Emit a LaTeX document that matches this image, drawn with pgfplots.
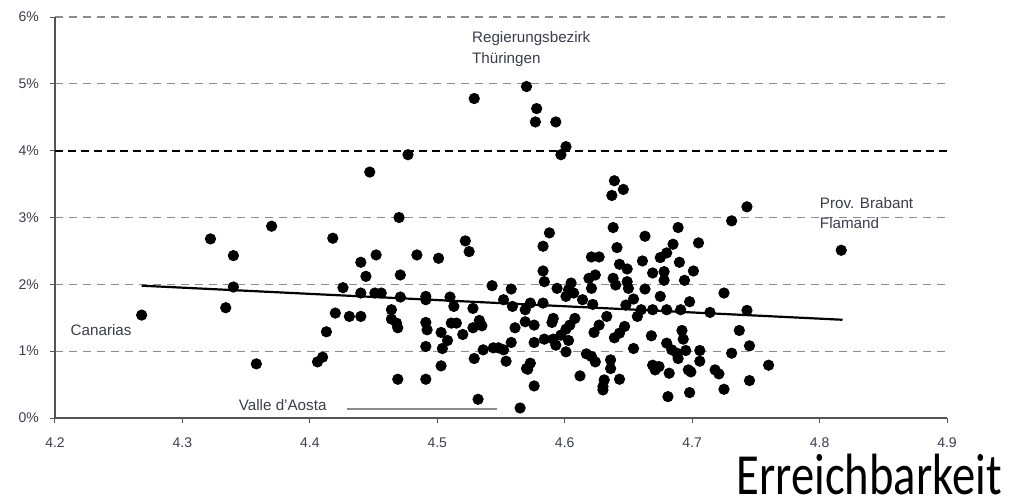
\documentclass[border=0pt]{standalone}
\usepackage{pgfplots}
\pgfplotsset{compat=1.18}
\usepackage{fontspec}
\setmainfont{Liberation Sans}
\newfontfamily\calibri{Carlito}
\definecolor{txt}{HTML}{3C3C4C}
\definecolor{gridg}{HTML}{8C8C8C}
\definecolor{axg}{HTML}{555555}
\begin{document}
\begin{tikzpicture}
\useasboundingbox (0,0) rectangle (510pt,249.5pt);
\begin{axis}[
  at={(27.5pt,40.5pt)}, anchor=south west,
  scale only axis, width=446pt, height=200.5pt,
  xmin=4.2, xmax=4.9, ymin=0, ymax=6,
  axis x line=bottom, axis y line=left,
  axis line style={-, axg, line width=0.8pt},
  xtick={4.2,4.3,...,4.9},
  xticklabels={4.2,4.3,4.4,4.5,4.6,4.7,4.8,4.9},
  ytick={0,1,2,3,5,6},
  yticklabel={\pgfmathprintnumber{\tick}\%},
  extra y ticks={4},
  extra y tick style={grid style={black, dash pattern=on 4pt off 2.5pt, line width=1pt}},
  ymajorgrids,
  grid style={gridg, dash pattern=on 4pt off 3pt, line width=0.6pt},
  tick align=outside, major tick length=2.5pt,
  tick style={axg, line width=0.5pt},
  ticklabel style={font=\fontsize{7pt}{8pt}\selectfont, text=txt},
  /pgf/number format/assume math mode=true,
  xticklabel style={yshift=-4pt},
  yticklabel style={xshift=-2pt},
  clip=false,
]
\addplot[only marks, mark=*, mark size=2.6pt, black] coordinates {
(4.268,1.54)(4.322,2.68)(4.334,1.65)(4.340,2.43)(4.340,1.96)(4.358,0.81)
(4.370,2.87)(4.406,0.84)(4.410,0.91)(4.413,1.29)(4.418,2.69)(4.420,1.57)
(4.477,3.94)(4.447,3.68)(4.470,3.00)(4.522,2.65)(4.525,2.49)(4.452,2.44)
(4.440,2.33)(4.484,2.44)(4.501,2.39)(4.444,2.12)(4.471,2.14)(4.426,1.95)
(4.543,1.98)(4.558,1.93)
(4.440,1.87)(4.451,1.87)(4.456,1.87)(4.471,1.81)(4.491,1.82)(4.491,1.77)
(4.510,1.81)(4.513,1.67)(4.528,1.64)(4.552,1.77)(4.559,1.67)(4.569,1.62)
(4.431,1.52)(4.440,1.52)(4.464,1.62)(4.464,1.48)(4.468,1.42)(4.469,1.35)
(4.491,1.43)(4.492,1.32)(4.503,1.28)(4.511,1.42)(4.515,1.42)(4.520,1.25)
(4.508,1.16)(4.504,1.04)(4.491,1.07)(4.528,1.35)(4.533,1.46)(4.535,1.38)
(4.561,1.35)(4.558,1.13)(4.536,1.02)(4.529,0.89)(4.544,1.05)(4.548,1.05)
(4.552,1.02)(4.554,0.85)(4.503,0.78)(4.469,0.58)(4.491,0.58)(4.532,0.28)
(4.565,0.15)(4.570,0.74)
(4.529,4.78)(4.570,4.96)(4.578,4.63)(4.577,4.43)(4.593,4.43)(4.601,4.06)
(4.597,3.94)(4.639,3.55)(4.646,3.42)(4.637,3.33)
(4.588,2.77)(4.583,2.57)(4.638,2.85)(4.641,2.55)(4.663,2.72)(4.689,2.85)
(4.685,2.60)(4.705,2.62)(4.680,2.47)(4.675,2.40)(4.621,2.41)(4.627,2.41)
(4.661,2.35)(4.643,2.30)(4.649,2.23)(4.690,2.33)(4.583,2.20)(4.624,2.14)
(4.669,2.17)(4.678,2.19)(4.701,2.20)(4.619,2.09)(4.678,2.06)(4.694,2.06)
(4.638,2.09)(4.584,2.04)(4.640,1.99)(4.649,2.04)(4.605,2.02)(4.594,1.94)
(4.603,1.92)(4.607,1.87)(4.601,1.82)(4.621,1.94)(4.650,1.94)(4.663,1.93)
(4.675,1.82)(4.698,1.74)(4.654,1.78)(4.614,1.77)(4.622,1.70)(4.648,1.69)
(4.583,1.72)(4.573,1.72)(4.660,1.62)(4.669,1.62)(4.680,1.62)(4.691,1.62)
(4.714,1.58)(4.591,1.49)(4.608,1.49)(4.633,1.52)(4.657,1.52)
(4.569,1.44)(4.576,1.39)(4.590,1.43)(4.604,1.39)(4.601,1.33)(4.597,1.24)
(4.627,1.39)(4.623,1.28)(4.647,1.37)(4.643,1.27)(4.639,1.20)(4.576,1.13)
(4.584,1.18)(4.591,1.18)(4.593,1.09)(4.603,1.16)(4.601,0.99)(4.654,1.04)
(4.668,1.23)(4.692,1.31)(4.693,1.18)(4.680,1.12)(4.684,1.02)(4.688,0.97)
(4.695,1.01)(4.706,1.01)(4.689,0.89)(4.706,0.85)(4.617,0.96)(4.621,0.92)
(4.624,0.84)(4.636,0.87)(4.636,0.74)(4.573,0.82)(4.571,0.73)(4.612,0.63)
(4.643,0.58)(4.631,0.57)(4.630,0.47)(4.630,0.42)(4.576,0.48)(4.669,0.79)
(4.674,0.77)(4.671,0.72)(4.682,0.67)(4.697,0.72)(4.681,0.32)(4.698,0.38)
(4.718,0.72)
(4.743,3.16)(4.731,2.95)(4.817,2.51)(4.725,1.87)(4.743,1.61)(4.737,1.31)
(4.745,1.08)(4.731,0.97)(4.760,0.79)(4.721,0.66)(4.745,0.56)(4.699,0.69)
(4.725,0.43)
};
\addplot[black, line width=1.1pt, mark=none] coordinates {(4.268,1.98)(4.818,1.47)};
\addplot[gridg, line width=0.6pt, mark=none] coordinates {(4.429,0.135)(4.547,0.135)};
\begin{scope}[every node/.style={font=\fontsize{7.6pt}{9pt}\selectfont, text=txt, inner sep=0pt}]
\node[anchor=base west] at (axis cs:4.527,5.616) {Regierungsbezirk};
\node[anchor=base west] at (axis cs:4.527,5.31) {Thüringen};
\node[anchor=west] at (axis cs:4.800,3.22) {Prov. Brabant};
\node[anchor=west] at (axis cs:4.800,2.92) {Flamand};
\node[anchor=west] at (axis cs:4.212,1.32) {Canarias};
\node[anchor=west] at (axis cs:4.344,0.195) {Valle d'Aosta};
\end{scope}
\end{axis}
\node[anchor=base east, inner sep=0pt] at (501pt,2.2pt) {\calibri\fontsize{23.3pt}{24pt}\selectfont\scalebox{1}[1.25]{Erreichbarkeit}};
\end{tikzpicture}
\end{document}
